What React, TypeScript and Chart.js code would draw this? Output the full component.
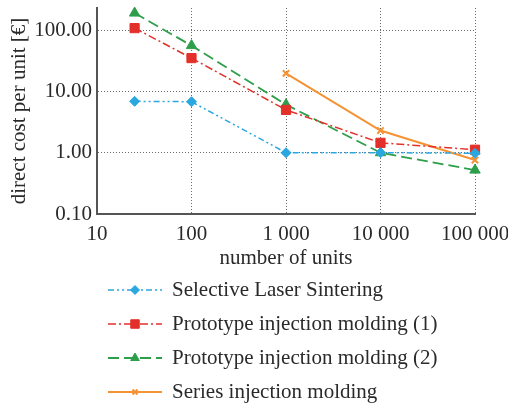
import React, { useEffect, useRef } from "react";
import { Chart, registerables } from "chart.js";
import { drawPoint } from "chart.js/helpers";

Chart.register(...registerables);

const seriesNames = [
  "Selective Laser Sintering",
  "Prototype injection molding (1)",
  "Prototype injection molding (2)",
  "Series injection molding",
];
const slsX = [25, 100, 1000, 10000, 100000];
const slsY = [6.9, 6.8, 1.0, 1.0, 0.98];
const proto1X = [25, 100, 1000, 10000, 100000];
const proto1Y = [108, 35, 5.0, 1.45, 1.12];
const proto2X = [25, 100, 1000, 10000, 100000];
const proto2Y = [190, 56, 6.1, 1.0, 0.52];
const seriesX = [1000, 10000, 100000];
const seriesY = [19.7, 2.3, 0.76];

const yTicks = [0.1, 1, 10, 100];
const xTicks = [10, 100, 1000, 10000, 100000];
const xTickLabels = ["10", "100", "1 000", "10 000", "100 000"];

const FONT = "'Liberation Serif', 'Times New Roman', serif";
const TEXT = "#2a2a2a";

const styles = [
  { color: "#2aa7df", dash: [6, 3, 2, 3, 2, 3], point: "rectRot", r: 5, pr: 4.5, w: 1.5 },
  { color: "#e3302a", dash: [8, 3, 2, 3], point: "rect", r: 6.5, pr: 6, w: 1.5 },
  { color: "#2d9e4a", dash: [11, 5], point: "triangle", r: 6, pr: 5, w: 1.8 },
  { color: "#f59234", dash: [], point: "crossRot", r: 4.5, pr: 3.5, w: 2 },
];

const zip = (xs: number[], ys: number[]) => xs.map((x, i) => ({ x, y: ys[i] }));

const legendPlugin = {
  id: "customLegend",
  afterDraw(chart: any) {
    const ctx = chart.ctx;
    const rows = [290, 324, 358, 392];
    chart.data.datasets.forEach((ds: any, i: number) => {
      const s = styles[i];
      const y = rows[i];
      ctx.save();
      ctx.strokeStyle = s.color;
      ctx.lineWidth = s.w;
      ctx.setLineDash(s.dash);
      ctx.beginPath();
      ctx.moveTo(108, y);
      ctx.lineTo(162, y);
      ctx.stroke();
      ctx.setLineDash([]);
      ctx.fillStyle = s.color;
      ctx.strokeStyle = s.color;
      ctx.lineWidth = s.point === "crossRot" ? 2 : 1;
      drawPoint(ctx, { pointStyle: s.point, radius: s.pr, rotation: 0, borderWidth: ctx.lineWidth }, 135, y);
      ctx.fillStyle = TEXT;
      ctx.font = `21px ${FONT}`;
      ctx.textBaseline = "middle";
      ctx.textAlign = "left";
      ctx.fillText(ds.label, 172, y);
      ctx.restore();
    });
  },
};

export default function App() {
  const ref = useRef<HTMLCanvasElement | null>(null);
  useEffect(() => {
    document.body.style.margin = "0";
    const xs = [slsX, proto1X, proto2X, seriesX];
    const ys = [slsY, proto1Y, proto2Y, seriesY];
    const chart = new Chart(ref.current!, {
      type: "line",
      data: {
        datasets: seriesNames.map((name, i) => ({
          label: name,
          data: zip(xs[i], ys[i]),
          borderColor: styles[i].color,
          backgroundColor: styles[i].color,
          borderWidth: styles[i].w,
          borderDash: styles[i].dash,
          pointStyle: styles[i].point as any,
          pointRadius: styles[i].r,
          pointBorderWidth: styles[i].point === "crossRot" ? 2 : 1,
          pointBackgroundColor: styles[i].color,
          pointBorderColor: styles[i].color,
          tension: 0,
          fill: false,
          clip: false as any,
        })),
      },
      options: {
        animation: false,
        responsive: false,
        maintainAspectRatio: false,
        layout: { padding: { left: 0, right: 33, top: 8, bottom: 132 } },
        plugins: { legend: { display: false }, tooltip: { enabled: false } },
        scales: {
          x: {
            type: "logarithmic",
            min: 10,
            max: 100000,
            bounds: "data",
            afterBuildTicks: (scale: any) => {
              scale.ticks = xTicks.map((v) => ({ value: v }));
            },
            afterFit: (scale: any) => {
              scale.height = 60;
              scale.paddingLeft = 0;
              scale.paddingRight = 0;
            },
            ticks: {
              autoSkip: false,
              maxRotation: 0,
              padding: 8,
              color: TEXT,
              font: { family: FONT, size: 21 },
              callback: (v: any) => {
                const idx = xTicks.indexOf(Number(v));
                return idx >= 0 ? xTickLabels[idx] : "";
              },
            },
            grid: {
              color: "#6a6a6a",
              lineWidth: 1,
              drawTicks: false,
            },
            border: { display: true, color: "#555555", width: 2, dash: [1, 2] } as any,
            title: {
              display: true,
              text: "number of units",
              color: TEXT,
              font: { family: FONT, size: 21 },
              padding: { top: 0, bottom: 3 },
            },
          },
          y: {
            type: "logarithmic",
            min: 0.1,
            max: 230,
            bounds: "data",
            afterBuildTicks: (scale: any) => {
              scale.ticks = yTicks.map((v) => ({ value: v }));
            },
            afterFit: (scale: any) => {
              scale.width = 97;
              scale.paddingTop = 0;
              scale.paddingBottom = 0;
            },
            ticks: {
              autoSkip: false,
              padding: 5,
              color: TEXT,
              font: { family: FONT, size: 21 },
              callback: (v: any) => Number(v).toFixed(2),
            },
            grid: {
              color: "#6a6a6a",
              lineWidth: 1,
              drawTicks: false,
            },
            border: { display: true, color: "#555555", width: 2, dash: [1, 2] } as any,
            title: {
              display: true,
              text: "direct cost per unit [€]",
              color: TEXT,
              font: { family: FONT, size: 21 },
              padding: { top: 7, bottom: 0 },
            },
          },
        },
      },
      plugins: [legendPlugin],
    });
    return () => chart.destroy();
  }, []);
  return (
    <div style={{ position: "fixed", left: 0, top: 0, width: 508, height: 406 }}>
      <canvas ref={ref} width={508} height={406} style={{ width: 508, height: 406 }} />
    </div>
  );
}
